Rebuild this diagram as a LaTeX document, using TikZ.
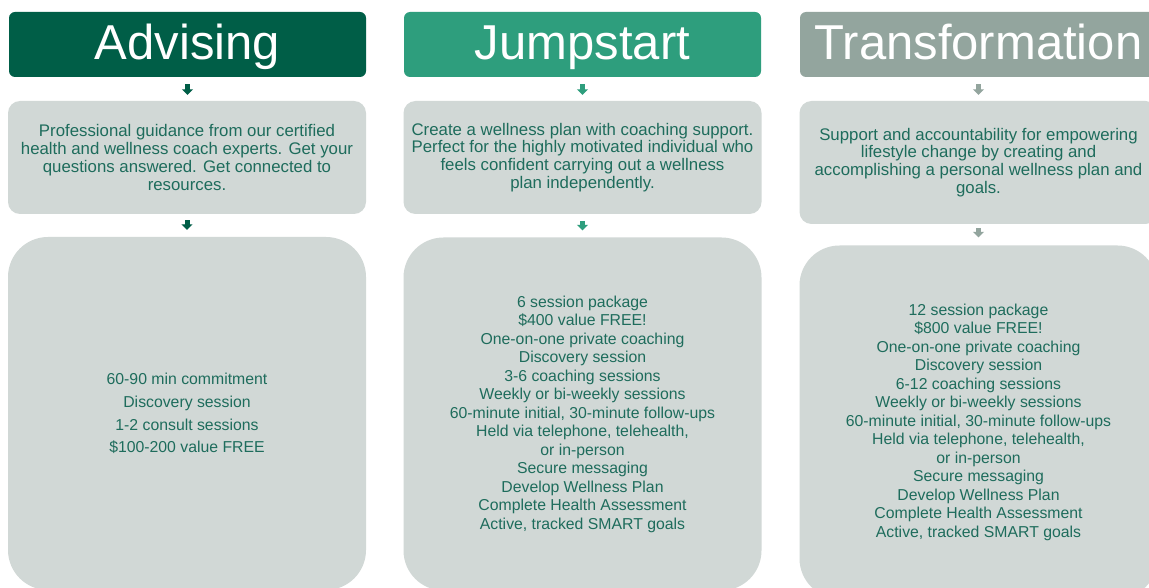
\documentclass[tikz,border=0pt]{standalone}
\usepackage{fontspec}
\setmainfont{Liberation Sans}
\usetikzlibrary{positioning, arrows.meta}

\definecolor{advgreen}{RGB}{0,94,71}
\definecolor{jumpgreen}{RGB}{46,158,125}
\definecolor{transgray}{RGB}{147,165,158}
\definecolor{panelgray}{RGB}{209,216,214}
\definecolor{paneltext}{RGB}{30,108,92}

\tikzset{
  tier/.style={fill=#1, rounded corners=6pt, minimum width=357pt, minimum height=65pt,
    inner sep=0pt, text height=40pt, text depth=9pt, text=white,
    font=\fontsize{49}{50}\selectfont},
  blurb/.style={fill=panelgray, rounded corners=12pt, minimum width=358pt, inner sep=0pt,
    text=paneltext, align=center, font=\fontsize{16.8}{17.7}\selectfont},
  perks/.style={fill=panelgray, rounded corners=40pt, minimum width=358pt,
    minimum height=353pt, inner sep=0pt, text=paneltext, align=center},
  flow/.style={draw=#1, line width=5pt, -{Triangle[length=5.5pt,width=11pt]}}
}

\begin{document}
\begin{tikzpicture}[x=1pt, y=-1pt]
  \clip (0,0) rectangle (1149,588);
  \fill[white] (0,0) rectangle (1149,588);

  % tier headers
  \node[tier=advgreen]  (h1) at (187.5,44.5) {Advising};
  \node[tier=jumpgreen] (h2) at (582.5,44.5) {Jumpstart};
  \node[tier=transgray] (h3) at (978.5,44.5) {Transformation};

  % short descriptions
  \node[blurb, minimum height=113pt] (d1) at (187,157.5)
    {Professional guidance from our certified\\health and wellness coach experts. Get your\\questions answered. Get connected to\\resources.};
  \node[blurb, minimum height=113pt] (d2) at (582.5,157.5)
    {Create a wellness plan with coaching support.\\Perfect for the highly motivated individual who\\feels confident carrying out a wellness\\plan independently.};
  \node[blurb, minimum height=123pt] (d3) at (978.5,162.5)
    {Support and accountability for empowering\\lifestyle change by creating and\\accomplishing a personal wellness plan and\\goals.};

  % what each tier includes
  \node[perks, font=\fontsize{15.8}{22.7}\selectfont] (p1) at (187,413.5)
    {60-90 min commitment\\Discovery session\\1-2 consult sessions\\\$100-200 value FREE};
  \node[perks, font=\fontsize{15.8}{18.5}\selectfont] (p2) at (582.5,414)
    {6 session package\\\$400 value FREE!\\One-on-one private coaching\\Discovery session\\3-6 coaching sessions\\Weekly or bi-weekly sessions\\60-minute initial, 30-minute follow-ups\\Held via telephone, telehealth,\\or in-person\\Secure messaging\\Develop Wellness Plan\\Complete Health Assessment\\Active, tracked SMART goals};
  \node[perks, font=\fontsize{15.8}{18.5}\selectfont] (p3) at (978.5,422)
    {12 session package\\\$800 value FREE!\\One-on-one private coaching\\Discovery session\\6-12 coaching sessions\\Weekly or bi-weekly sessions\\60-minute initial, 30-minute follow-ups\\Held via telephone, telehealth,\\or in-person\\Secure messaging\\Develop Wellness Plan\\Complete Health Assessment\\Active, tracked SMART goals};

  % down arrows
  \draw[flow=advgreen, shorten <=7pt, shorten >=6pt] (h1) -- (h1 |- d1.north);
  \draw[flow=advgreen, shorten <=6pt, shorten >=7pt] (d1) -- (d1 |- p1.north);
  \draw[flow=jumpgreen, shorten <=7pt, shorten >=6pt] (h2) -- (h2 |- d2.north);
  \draw[flow=jumpgreen, shorten <=7pt, shorten >=7pt] (d2) -- (d2 |- p2.north);
  \draw[flow=transgray, shorten <=7pt, shorten >=6pt] (h3) -- (h3 |- d3.north);
  \draw[flow=transgray, shorten <=4pt, shorten >=8pt] (d3) -- (d3 |- p3.north);
\end{tikzpicture}
\end{document}
